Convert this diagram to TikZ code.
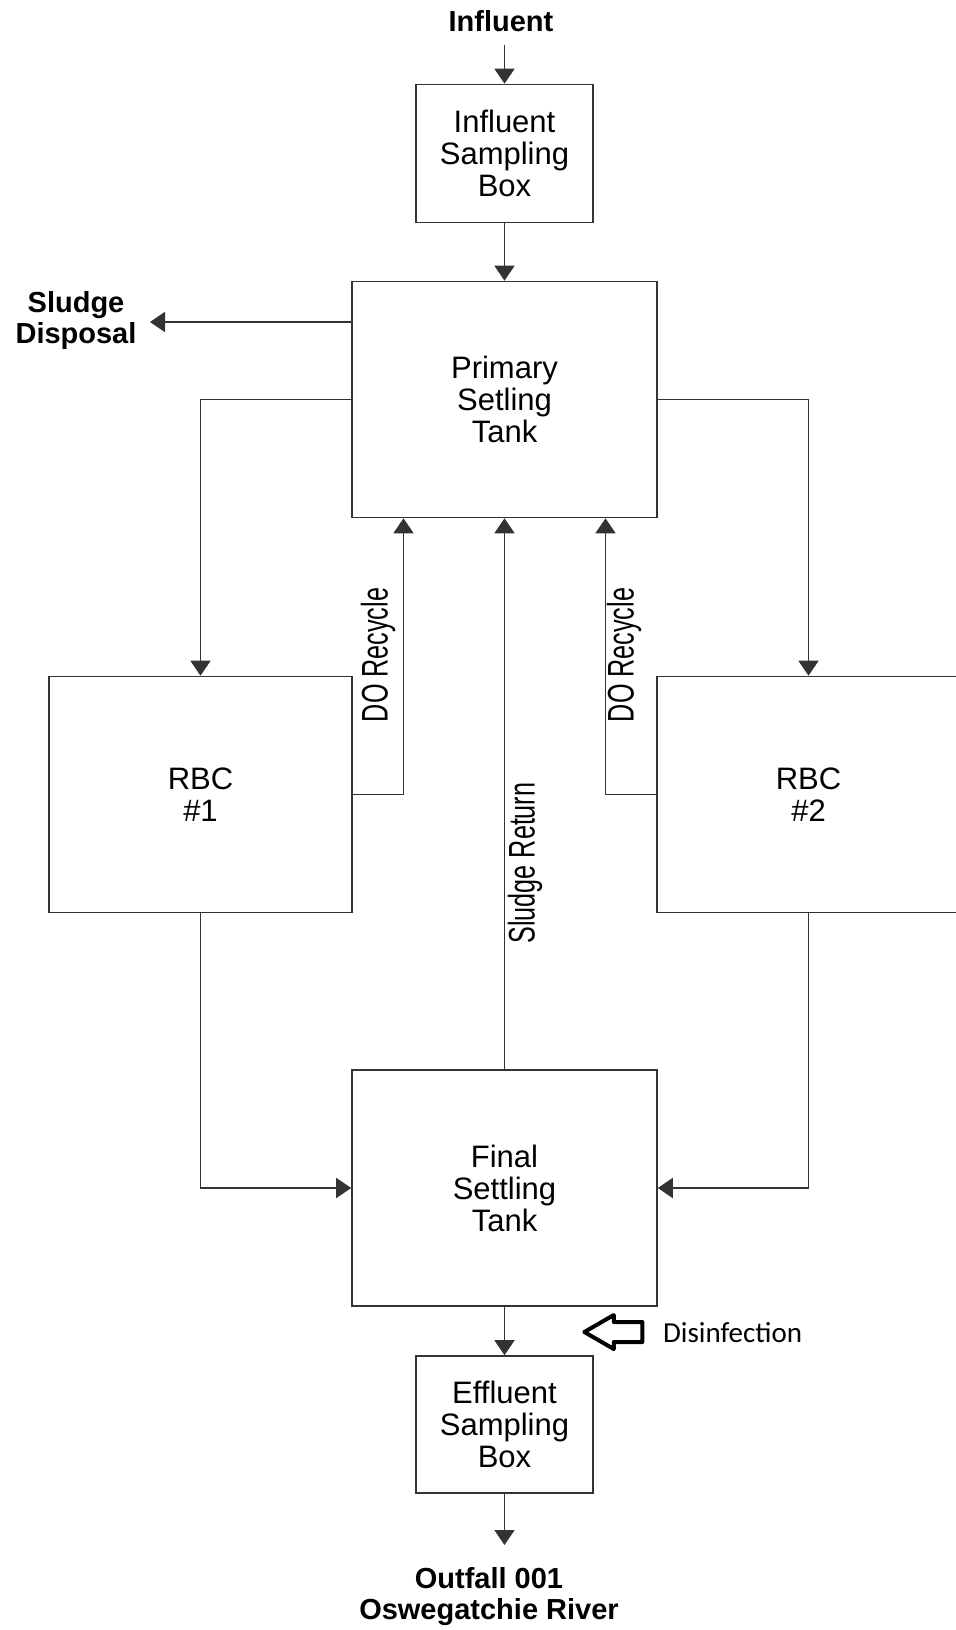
\documentclass[tikz,border=0pt]{standalone}
\usepackage{fontspec}
\setmainfont{Liberation Sans}
\newfontfamily\calfont{Carlito}
\usetikzlibrary{arrows.meta,calc,positioning,shapes.arrows}

\begin{document}
\begin{tikzpicture}[x=0.5pt,y=-0.5pt,>={Triangle[width=10pt,length=7.5pt]},
  unit/.style={draw=black!80,line width=0.8pt,align=center,font=\fontsize{15.5}{16}\selectfont},
  flow/.style={->,draw=black!80,line width=0.8pt},
  tag/.style={align=center,font=\bfseries\fontsize{14.5}{15.5}\selectfont},
  sidetag/.style={rotate=90,xscale=0.68,font=\fontsize{18.5}{18.5}\selectfont}]
	\useasboundingbox (0,0) rectangle (956,1630);
	% units of the plant
	\node[unit,minimum width=88.5pt,minimum height=69pt] (insamp) at (504.5,153.5) {Influent\\Sampling\\Box};
	\node[unit,minimum width=152.5pt,minimum height=118pt] (primary) at (504.5,399.5) {Primary\\Setling\\Tank};
	\node[unit,minimum width=151.5pt,minimum height=118pt] (rbc1) at (200.5,794.5) {RBC\\\#1};
	\node[unit,minimum width=151.5pt,minimum height=118pt] (rbc2) at (808.5,794.5) {RBC\\\#2};
	\node[unit,minimum width=152.5pt,minimum height=118pt] (final) at (504.5,1188) {Final\\Settling\\Tank};
	\node[unit,minimum width=88.5pt,minimum height=68.5pt] (effsamp) at (504.5,1424.5) {Effluent\\Sampling\\Box};
	% outside labels
	\node[tag] (influent) at (501,21) {Influent};
	\node[tag] (disposal) at (76,320) {Sludge\\Disposal};
	\node[tag] (outfall) at (489,1597) {Outfall 001\\Oswegatchie River};
	\coordinate (intop) at (504.5,45);
	\coordinate (sdtip) at (150,322);
	\coordinate (outtip) at (504.5,1545);
	% flows
	\draw[flow] (intop) -- (insamp);
	\draw[flow] (insamp) -- (primary);
	\draw[flow] (primary.west |- sdtip) -- (sdtip);
	\draw[flow] (primary.west) -| (rbc1);
	\draw[flow] (primary.east) -| (rbc2);
	\draw[flow] (rbc1.east) -| ($(primary.south)+(-101,0)$);
	\draw[flow] (rbc2.west) -| ($(primary.south)+(101,0)$);
	\draw[flow] (rbc1.south) |- (final.west);
	\draw[flow] (rbc2.south) |- (final.east);
	\draw[flow] (final) -- (primary);
	\draw[flow] (final) -- (effsamp);
	\draw[flow] (effsamp) -- (outtip);
	% line labels
	\node[sidetag] (dorec1) at (378,655) {DO Recycle};
	\node[sidetag] (dorec2) at (624,655) {DO Recycle};
	\node[sidetag] (sreturn) at (525,863) {Sludge Return};
	% disinfection
	\node[single arrow,draw,line width=2pt,line join=round,shape border rotate=180,
	  minimum height=29pt,minimum width=16pt,inner sep=4pt,
	  single arrow head extend=3.5pt,single arrow tip angle=60] (disarrow) at (622,1332) {};
	\node[anchor=west,font=\calfont\fontsize{14.5}{15}\selectfont] (distext) at (656,1333) {Disinfection};
\end{tikzpicture}
\end{document}
